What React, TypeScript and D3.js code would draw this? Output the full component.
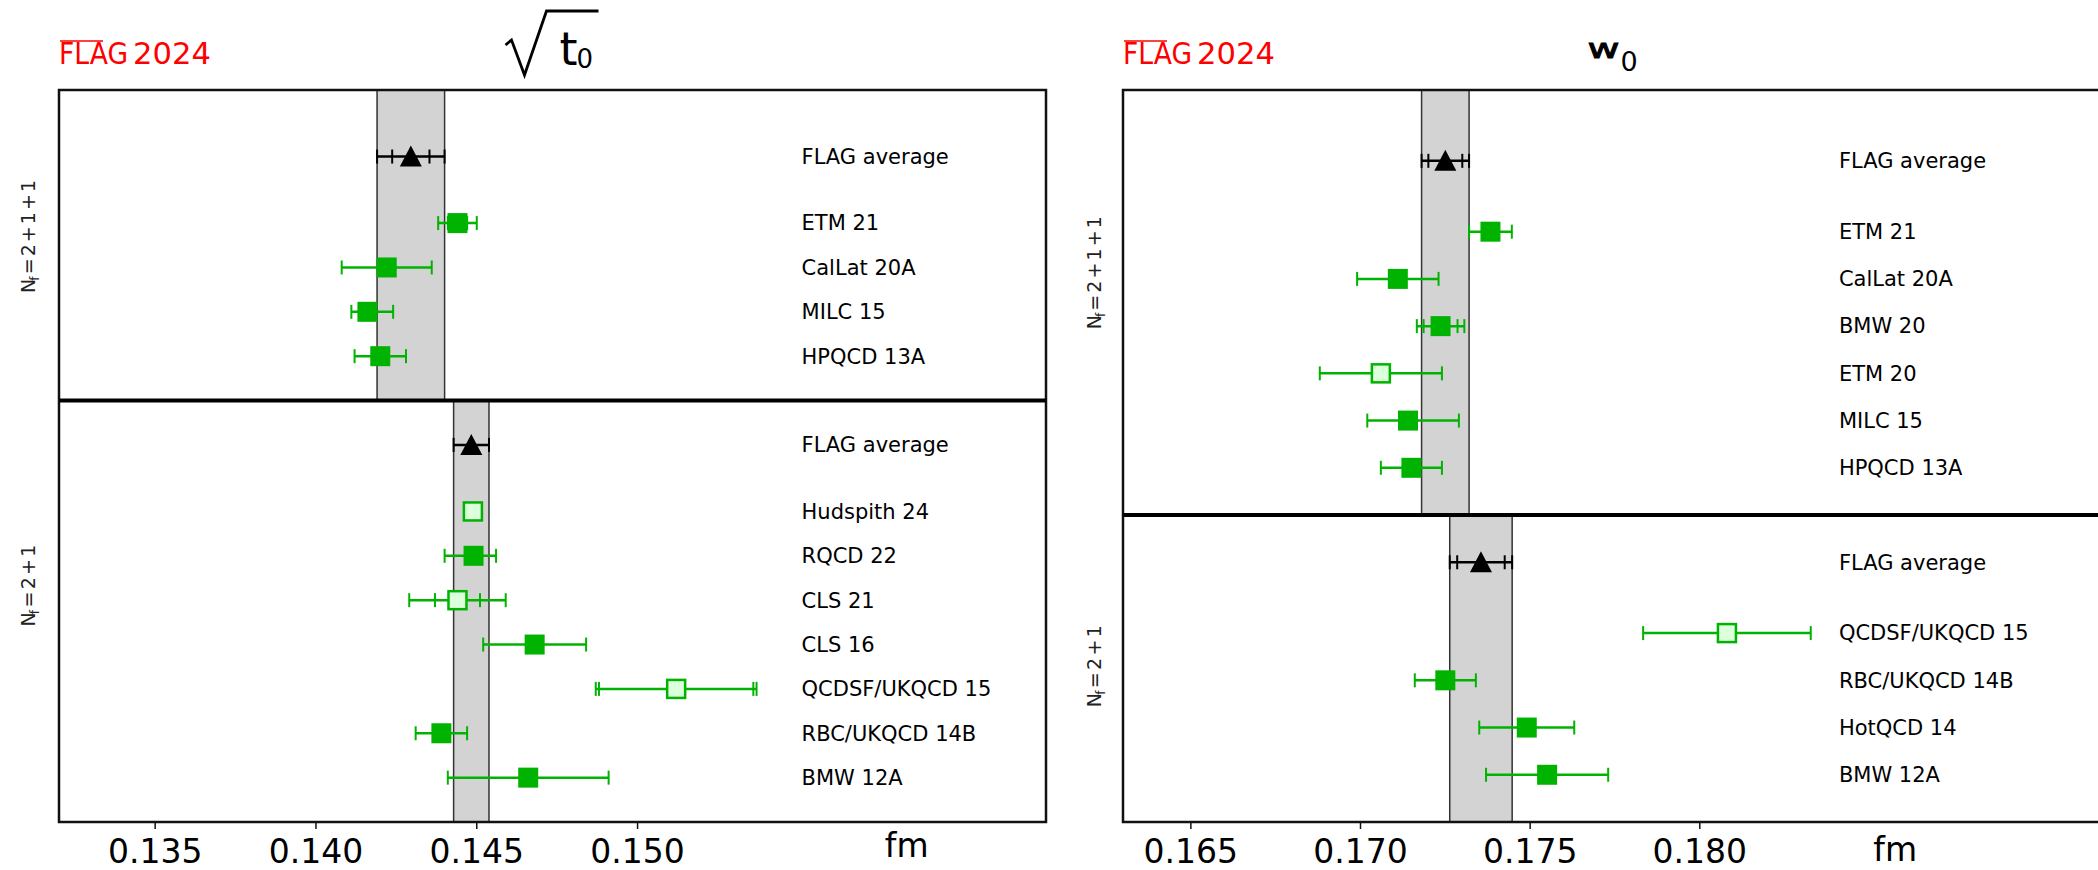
import React from "react";
import * as d3 from "d3";

const W = 2098;
const H = 870;
const green = "#00b300";
const lightGreen = "#dcffdc";
const font = "DejaVu Sans, sans-serif";

// sqrt(t0), Nf = 2+1+1
const t0Labels4 = ["ETM 21", "CalLat 20A", "MILC 15", "HPQCD 13A"];
const t0Values4 = [0.1444, 0.1422, 0.1416, 0.142];
const t0Lo4 = [0.0006, 0.0014, 0.0005, 0.0008];
const t0Hi4 = [0.0006, 0.0014, 0.0008, 0.0008];
const t0Stat4 = [0.0003, 0, 0, 0];
const t0Open4 = [false, false, false, false];
const t0Avg4 = { value: 0.14295, err: 0.00105, stat: 0.00058 };

// sqrt(t0), Nf = 2+1
const t0Labels3 = ["Hudspith 24", "RQCD 22", "CLS 21", "CLS 16", "QCDSF/UKQCD 15", "RBC/UKQCD 14B", "BMW 12A"];
const t0Values3 = [0.14488, 0.1449, 0.1444, 0.1468, 0.1512, 0.1439, 0.1466];
const t0Lo3 = [0.0002, 0.0009, 0.0015, 0.0016, 0.0025, 0.0008, 0.0025];
const t0Hi3 = [0.0002, 0.0007, 0.0015, 0.0016, 0.0025, 0.0008, 0.0025];
const t0Stat3 = [0, 0, 0.0007, 0, 0.0024, 0, 0];
const t0Open3 = [true, false, true, false, true, false, false];
const t0Avg3 = { value: 0.14483, err: 0.00055, stat: 0 };

// w0, Nf = 2+1+1
const w0Labels4 = ["ETM 21", "CalLat 20A", "BMW 20", "ETM 20", "MILC 15", "HPQCD 13A"];
const w0Values4 = [0.17383, 0.1711, 0.17236, 0.1706, 0.1714, 0.1715];
const w0Lo4 = [0.00063, 0.0012, 0.0007, 0.0018, 0.0012, 0.0009];
const w0Hi4 = [0.00063, 0.0012, 0.0007, 0.0018, 0.0015, 0.0009];
const w0Stat4 = [0.0002, 0, 0.0005, 0, 0, 0];
const w0Open4 = [false, false, false, true, false, false];
const w0Avg4 = { value: 0.1725, err: 0.0007, stat: 0.0005 };

// w0, Nf = 2+1
const w0Labels3 = ["QCDSF/UKQCD 15", "RBC/UKQCD 14B", "HotQCD 14", "BMW 12A"];
const w0Values3 = [0.1808, 0.1725, 0.1749, 0.1755];
const w0Lo3 = [0.00247, 0.0009, 0.0014, 0.0018];
const w0Hi3 = [0.00247, 0.0009, 0.0014, 0.0018];
const w0Stat3 = [0, 0, 0, 0];
const w0Open3 = [true, false, false, false];
const w0Avg3 = { value: 0.17355, err: 0.00092, stat: 0.0007 };

const t0Ticks = [0.135, 0.14, 0.145, 0.15];
const w0Ticks = [0.165, 0.17, 0.175, 0.18];

type Entry = { label: string; value: number; lo: number; hi: number; stat: number; open: boolean };
type Avg = { value: number; err: number; stat: number };

const makeEntries = (labels: string[], values: number[], lo: number[], hi: number[], stat: number[], open: boolean[]): Entry[] =>
  labels.map((label, i) => ({ label, value: values[i], lo: lo[i], hi: hi[i], stat: stat[i], open: open[i] }));

const top = 90;
const bottom = 822;
const panelW = 987;

function ErrorBar({ x, y, lo, hi, stat, color, sw }: any) {
  const c = 7;
  return (
    <g stroke={color} strokeWidth={sw}>
      <line x1={x(lo)} x2={x(hi)} y1={y} y2={y} />
      <line x1={x(lo)} x2={x(lo)} y1={y - c} y2={y + c} strokeWidth={2} />
      <line x1={x(hi)} x2={x(hi)} y1={y - c} y2={y + c} strokeWidth={2} />
      {stat > 0 && (
        <>
          <line x1={x((lo + hi) / 2 - stat)} x2={x((lo + hi) / 2 - stat)} y1={y - c} y2={y + c} strokeWidth={2} />
          <line x1={x((lo + hi) / 2 + stat)} x2={x((lo + hi) / 2 + stat)} y1={y - c} y2={y + c} strokeWidth={2} />
        </>
      )}
    </g>
  );
}

function Panel({ x0, domain, ticks, labelX, fmX, fmY, groups, nfPos, nfX, title }: any) {
  const x = d3.scaleLinear().domain(domain).range([x0, x0 + panelW]);
  const heights = [3 + groups[0].entries.length, 2.5 + groups[1].entries.length];
  const total = heights[0] + heights[1];
  const y = d3.scaleLinear().domain([0, total]).range([top, bottom]);
  const sepY = y(heights[0]);
  const cx = x0 + panelW / 2;

  const subs = groups.map((g: any, gi: number) => {
    const off = gi === 0 ? 0 : heights[0];
    const avgU = gi === 0 ? 1.5 : off + 1;
    const startU = gi === 0 ? 3 : off + 2.5;
    const yTop = y(off);
    const yBot = y(off + heights[gi]);
    const avg: Avg = g.avg;
    const ay = y(avgU);
    return (
      <g key={gi}>
        <rect x={x(avg.value - avg.err)} y={yTop} width={x(avg.value + avg.err) - x(avg.value - avg.err)} height={yBot - yTop} fill="#d3d3d3" stroke="#333" strokeWidth={1.5} />
        <ErrorBar x={x} y={ay} lo={avg.value - avg.err} hi={avg.value + avg.err} stat={avg.stat} color="#000" sw={2.5} />
        <path d={`M${x(avg.value) - 11},${ay + 10} L${x(avg.value)},${ay - 11} L${x(avg.value) + 11},${ay + 10} Z`} fill="#000" />
        <text x={x(labelX)} y={ay} dy="0.35em" fontSize={21} fontFamily={font}>FLAG average</text>
        {g.entries.map((e: Entry, i: number) => {
          const py = y(startU + i);
          const px = x(e.value);
          return (
            <g key={i}>
              <line x1={x(e.value - e.lo)} x2={x(e.value + e.hi)} y1={py} y2={py} stroke={green} strokeWidth={2.5} />
              {[e.value - e.lo, e.value + e.hi].concat(e.stat > 0 ? [e.value - e.stat, e.value + e.stat] : []).map((v, k) => (
                <line key={k} x1={x(v)} x2={x(v)} y1={py - 7} y2={py + 7} stroke={green} strokeWidth={2} />
              ))}
              {e.open ? (
                <rect x={px - 9} y={py - 9} width={18} height={18} fill={lightGreen} stroke={green} strokeWidth={2.5} />
              ) : (
                <rect x={px - 10} y={py - 10} width={20} height={20} fill={green} />
              )}
              <text x={x(labelX)} y={py} dy="0.35em" fontSize={21} fontFamily={font}>{e.label}</text>
            </g>
          );
        })}
        <text transform={`translate(${nfX},${y(nfPos[gi])}) rotate(-90)`} textAnchor="middle" fontSize={19} fontFamily={font}
          fill="#222" textLength={gi === 0 ? 113 : 82} lengthAdjust="spacing">
          N<tspan fontSize={12} dy={4}>f</tspan><tspan dy={-4}>{gi === 0 ? " = 2 + 1 + 1" : " = 2 + 1"}</tspan>
        </text>
      </g>
    );
  });

  return (
    <g>
      {subs}
      <rect x={x0} y={top} width={panelW} height={bottom - top} fill="none" stroke="#111" strokeWidth={2.5} />
      <line x1={x0} x2={x0 + panelW} y1={sepY} y2={sepY} stroke="#000" strokeWidth={4} />
      {ticks.map((t: number) => (
        <g key={t}>
          <line x1={x(t)} x2={x(t)} y1={bottom} y2={bottom + 7} stroke="#111" strokeWidth={1.5} />
          <text x={x(t)} y={863} textAnchor="middle" fontSize={33} fontFamily={font}>{d3.format(".3f")(t)}</text>
        </g>
      ))}
      <text x={x(fmX)} y={fmY} textAnchor="middle" fontSize={33} fontFamily={font}>fm</text>
      <g fontFamily={font} fill="#ff0000">
        <text x={x0} y={64} fontSize={31} textLength={69} lengthAdjust="spacingAndGlyphs">FLAG</text>
        <line x1={x0 + 1} x2={x0 + 44} y1={41} y2={41} stroke="#ff0000" strokeWidth={1.5} />
        <text x={x0 + 74} y={64} fontSize={31} textLength={78} lengthAdjust="spacingAndGlyphs">2024</text>
      </g>
      {title === "t0" ? (
        <g fontFamily={font}>
          <path d={`M${cx - 47},${45} L${cx - 41},${40} L${cx - 28},${75} L${cx - 6},${11} L${cx + 46},${11}`} fill="none" stroke="#000" strokeWidth={2.8} strokeLinejoin="miter" />
          <text x={cx + 7} y={65} fontSize={46}>t</text>
          <text x={cx + 24} y={68} fontSize={26}>0</text>
        </g>
      ) : (
        <g fontFamily={font}>
          <text transform={`translate(${cx - 29},${58}) scale(1.45,1)`} fontSize={27} stroke="#000" strokeWidth={0.9}>w</text>
          <text x={cx + 4} y={71} fontSize={27}>0</text>
        </g>
      )}
    </g>
  );
}

export default function App() {
  const leftGroups = [
    { avg: t0Avg4, entries: makeEntries(t0Labels4, t0Values4, t0Lo4, t0Hi4, t0Stat4, t0Open4) },
    { avg: t0Avg3, entries: makeEntries(t0Labels3, t0Values3, t0Lo3, t0Hi3, t0Stat3, t0Open3) },
  ];
  const rightGroups = [
    { avg: w0Avg4, entries: makeEntries(w0Labels4, w0Values4, w0Lo4, w0Hi4, w0Stat4, w0Open4) },
    { avg: w0Avg3, entries: makeEntries(w0Labels3, w0Values3, w0Lo3, w0Hi3, w0Stat3, w0Open3) },
  ];
  return (
    <svg width={W} height={H} style={{ position: "absolute", left: 0, top: 0, background: "#fff" }}>
      <Panel x0={59} domain={[0.13201, 0.1627]} ticks={t0Ticks} labelX={0.1551} fmX={0.15837} fmY={857}
        groups={leftGroups} nfPos={[3.3, 11.17]} nfX={35} title="t0" />
      <Panel x0={1123} domain={[0.163, 0.19209]} ticks={w0Ticks} labelX={0.1841} fmX={0.18576} fmY={861}
        groups={rightGroups} nfPos={[3.87, 12.2]} nfX={1101} title="w0" />
    </svg>
  );
}
